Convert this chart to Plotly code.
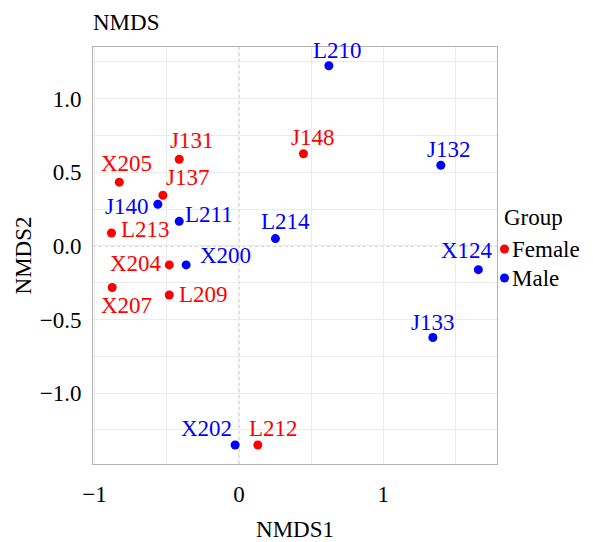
import plotly.graph_objects as go

# ---- data ----
samples = ["X205", "J131", "J137", "J140", "L211", "L213", "L214", "X204", "X200",
           "X207", "L209", "X202", "L212", "L210", "J148", "J132", "X124", "J133"]
groups = ["Female", "Female", "Female", "Male", "Male", "Female", "Male", "Female", "Male",
          "Female", "Female", "Male", "Female", "Male", "Female", "Male", "Male", "Male"]
nmds1 = [-0.828, -0.413, -0.526, -0.561, -0.413, -0.882, 0.253, -0.482, -0.365,
         -0.877, -0.482, -0.026, 0.131, 0.623, 0.447, 1.398, 1.658, 1.343]
nmds2 = [0.433, 0.589, 0.344, 0.283, 0.167, 0.088, 0.050, -0.129, -0.129,
         -0.282, -0.333, -1.352, -1.352, 1.224, 0.626, 0.548, -0.161, -0.622]
# label offsets (pixels) relative to each point, like a repel layout
label_dx = [7, 12, 25, -31, 30, 34, 10, -33, 39, 14, 34, -29, 16, 9, 9, 8, -11, 0]
label_dy = [19, 19, 18, -2, 7, 3, 17, 1, 9, -18, 0, 17, 17, 15, 16, 16, 19, 15]

group_order = ["Female", "Male"]
colors = {"Female": "#FF0000", "Male": "#0000FF"}
legend_title = "Group"

FONT = "Liberation Serif"
FS = 23

fig = go.Figure()
for g in group_order:
    idx = [i for i, gg in enumerate(groups) if gg == g]
    fig.add_trace(go.Scatter(
        x=[nmds1[i] for i in idx], y=[nmds2[i] for i in idx],
        mode="markers", name=g, showlegend=False,
        marker=dict(color=colors[g], size=9),
    ))

for i, s in enumerate(samples):
    fig.add_annotation(x=nmds1[i], y=nmds2[i], text=s, showarrow=False,
                       xshift=label_dx[i], yshift=label_dy[i],
                       font=dict(family=FONT, size=FS, color=colors[groups[i]]))

# dotted reference lines at 0
fig.add_shape(type="line", xref="x", yref="paper", x0=0, x1=0, y0=0, y1=1,
              line=dict(color="#a0a0a0", width=1, dash="dot"), layer="between")
fig.add_shape(type="line", xref="paper", yref="y", x0=0, x1=1, y0=0, y1=0,
              line=dict(color="#a0a0a0", width=1, dash="dot"), layer="between")

# legend (drawn as keys beside the panel)
LX = 1.0 + 7 / 404.0
LY0 = (464 - 249) / 417.0
LSTEP = 29 / 417.0
fig.add_annotation(xref="paper", yref="paper", x=1.0 + 5 / 404.0, y=(464 - 217) / 417.0,
                   text=legend_title, showarrow=False, xanchor="left", yanchor="middle",
                   font=dict(family=FONT, size=FS, color="black"))
for k, g in enumerate(group_order):
    yk = LY0 - k * LSTEP
    fig.add_shape(type="circle", xref="paper", yref="paper", xsizemode="pixel", ysizemode="pixel",
                  xanchor=LX + 0.5 / 404.0, yanchor=yk, x0=-4.5, x1=4.5, y0=-4.5, y1=4.5,
                  fillcolor=colors[g], line=dict(width=0))
    fig.add_annotation(xref="paper", yref="paper", x=LX + 6 / 404.0, y=yk,
                       text=g, showarrow=False, xanchor="left", yanchor="middle",
                       font=dict(family=FONT, size=FS, color="black"))

fig.update_layout(
    width=593, height=542,
    margin=dict(l=93, r=96, t=47, b=78, autoexpand=False),
    paper_bgcolor="white", plot_bgcolor="white",
    font=dict(family=FONT, size=FS, color="black"),
    showlegend=False,
    title=dict(text="NMDS", x=93/593, xanchor="left", y=1 - 22/542, yanchor="middle",
               font=dict(family=FONT, size=FS, color="black")),
    xaxis=dict(range=[-1.01, 1.787], dtick=1, tick0=0, showgrid=True, gridcolor="#ebebeb",
               minor=dict(dtick=0.5, tick0=0, showgrid=True, gridcolor="#ebebeb"),
               zeroline=False, showline=True, mirror=True, linecolor="#b3b3b3", linewidth=1,
               ticks="", ticklabelstandoff=9, tickfont=dict(family=FONT, size=FS),
               title=dict(text="NMDS1", standoff=17, font=dict(family=FONT, size=FS))),
    yaxis=dict(range=[-1.481, 1.351], dtick=0.5, tick0=0, tickformat=".1f",
               showgrid=True, gridcolor="#ebebeb",
               minor=dict(dtick=0.25, tick0=0, showgrid=True, gridcolor="#ebebeb"),
               zeroline=False, showline=True, mirror=True, linecolor="#b3b3b3", linewidth=1,
               ticks="", ticklabelstandoff=6, tickfont=dict(family=FONT, size=FS),
               title=dict(text="NMDS2", standoff=1, font=dict(family=FONT, size=FS))),
)

fig.write_html("out.html")
